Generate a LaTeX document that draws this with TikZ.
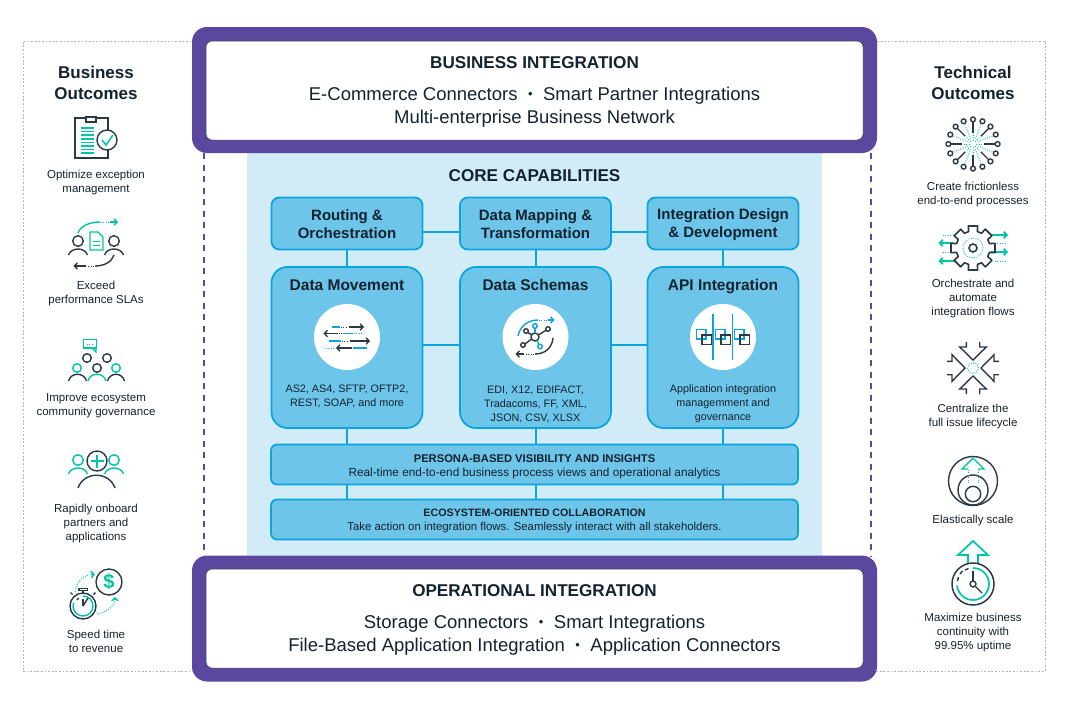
\documentclass[tikz,border=0pt]{standalone}
\usepackage{fontspec}
\usepackage{xcolor}
\setmainfont{Liberation Sans}
\usetikzlibrary{positioning, arrows.meta}

\definecolor{inkdark}{HTML}{13222F}
\definecolor{icondark}{HTML}{2B3947}
\definecolor{iconteal}{HTML}{00C4A7}
\definecolor{barpurple}{HTML}{5B479E}
\definecolor{corepale}{HTML}{D2ECF7}
\definecolor{boxfill}{HTML}{6DC5E9}
\definecolor{boxline}{HTML}{0AA5DC}

\newcommand{\sepdot}{\hspace{10.5pt}\raisebox{1.3pt}{\fontsize{13}{13}\selectfont\textbullet}\hspace{10.5pt}}

\tikzset{
    barb/.style={-{Straight Barb[length=3pt,width=6.5pt]}},
    darkline/.style={draw=icondark, line width=1.4pt},
    tealline/.style={draw=iconteal, line width=1.4pt},
    blueline/.style={draw=boxline, line width=1.4pt},
    fineteal/.style={draw=iconteal, line width=0.9pt, dash pattern=on 1pt off 1.4pt},
    fineblue/.style={draw=boxline, line width=0.9pt, dash pattern=on 1pt off 1.4pt},
    finedark/.style={draw=icondark, line width=0.9pt, dash pattern=on 1pt off 1.4pt},
    purplebar/.style={fill=barpurple, draw=none, rounded corners=15pt, inner sep=0pt, outer sep=0pt, minimum width=685pt, minimum height=126pt},
    whitebar/.style={fill=white, draw=icondark, line width=0.5pt, rounded corners=6pt, inner sep=0pt, outer sep=0pt, minimum width=657pt, minimum height=99pt},
    topbox/.style={fill=boxfill, draw=boxline, line width=1.8pt, rounded corners=8pt, inner sep=0pt, outer sep=0pt, minimum width=151pt, minimum height=52pt},
    toptext/.style={text=inkdark, align=center, font=\bfseries\fontsize{15}{18}\selectfont},
    bigbox/.style={fill=boxfill, draw=boxline, line width=1.8pt, rounded corners=16pt, inner sep=0pt, outer sep=0pt, minimum width=151pt, minimum height=161pt},
    widebox/.style={fill=boxfill, draw=boxline, line width=1.8pt, rounded corners=6pt, inner sep=0pt, outer sep=0pt, minimum width=527pt, minimum height=40pt},
    widetext/.style={text=inkdark, align=center, font=\fontsize{11.4}{14}\selectfont},
    whitedisc/.style={circle, fill=white, draw=none, inner sep=0pt, outer sep=0pt, minimum size=66pt},
    joinline/.style={draw=boxline, line width=2pt},
    sidehead/.style={text=inkdark, align=center, font=\bfseries\fontsize{17}{21}\selectfont},
    sidetext/.style={text=inkdark, align=center, font=\fontsize{11.5}{14}\selectfont},
    bartitle/.style={text=inkdark, font=\bfseries\fontsize{17.1}{21}\selectfont},
    bartext/.style={text=inkdark, align=center, font=\fontsize{18.5}{23}\selectfont},
    boxtitle/.style={text=inkdark, text height=12pt, text depth=3pt, font=\bfseries\fontsize{15.5}{18}\selectfont},
    boxtext/.style={text=inkdark, align=center, font=\fontsize{10.8}{14}\selectfont},
    person/.pic={
        \draw[pic actions] (0,0) circle[radius=5.3pt];
        \draw[pic actions] (-9.5,14) .. controls (-7,6) and (7,6) .. (9.5,14);
    },
    inarrow/.pic={
        \draw[darkline] (-6.7,-26) -- (-6.7,-21) -- (-13.3,-21) -- (0,-8) -- (13.3,-21) -- (6.7,-21) -- (6.7,-26);
    },
}

\begin{document}
\begin{tikzpicture}[x=1pt, y=-1pt]
    \useasboundingbox (0,0) rectangle (1068,710);

    % frame and middle panel
    \node[draw=gray!60, line width=1pt, dash pattern=on 1.8pt off 1.8pt, inner sep=0pt, minimum width=1022pt, minimum height=630pt] (outerframe) at (534,356) {};
    \node[fill=corepale, inner sep=0pt, outer sep=0pt, minimum width=575pt, minimum height=405pt] (corepanel) at (534.5,354.5) {};

    \coordinate (leftdashtop) at (203.5,153);
    \coordinate (leftdashend) at (203.5,556);
    \coordinate (rightdashtop) at (870.5,153);
    \coordinate (rightdashend) at (870.5,556);
    \draw[draw=barpurple, line width=2pt, dash pattern=on 6pt off 5.5pt] (leftdashtop) -- (leftdashend);
    \draw[draw=barpurple, line width=2pt, dash pattern=on 6pt off 5.5pt] (rightdashtop) -- (rightdashend);

    % top and bottom bars
    \node[purplebar] (topbar) at (534.5,90) {};
    \node[whitebar] (topinner) at (534.5,90.5) {};
    \node[bartitle] (toptitle) at (534.5,63) {BUSINESS INTEGRATION};
    \node[bartext] (toptext) at (534.5,107) {E-Commerce Connectors\sepdot Smart Partner Integrations\\Multi-enterprise Business Network};

    \node[purplebar] (lowbar) at (534.5,618.5) {};
    \node[whitebar] (lowinner) at (534.5,618.5) {};
    \node[bartitle] (lowtitle) at (534.5,591) {OPERATIONAL INTEGRATION};
    \node[bartext] (lowtext) at (534.5,635) {Storage Connectors\sepdot Smart Integrations\\File-Based Application Integration\sepdot Application Connectors};

    \node[bartitle] (coretitle) at (534.5,176) {CORE CAPABILITIES};

    % boxes
    \node[topbox] (routing) at (347,223.5) {};
    \node[topbox] (mapping) at (535.5,223.5) {};
    \node[topbox] (design) at (723,223.5) {};
    \node[bigbox] (movement) at (347,347.5) {};
    \node[bigbox] (schemas) at (535.5,347.5) {};
    \node[bigbox] (api) at (723,347.5) {};
    \node[widebox] (persona) at (534.5,464.5) {};
    \node[widebox] (ecosystem) at (534.5,519.5) {};

    % connectors
    \coordinate (rowone) at (347,232);
    \coordinate (rowtwo) at (347,345);
    \draw[joinline] (routing.east |- rowone) -- (mapping.west |- rowone);
    \draw[joinline] (mapping.east |- rowone) -- (design.west |- rowone);
    \draw[joinline] (movement.east |- rowtwo) -- (schemas.west |- rowtwo);
    \draw[joinline] (schemas.east |- rowtwo) -- (api.west |- rowtwo);
    \draw[joinline] (routing) -- (movement);
    \draw[joinline] (mapping) -- (schemas);
    \draw[joinline] (design) -- (api);
    \draw[joinline] (movement.south) -- (movement.south |- persona.north);
    \draw[joinline] (schemas.south) -- (schemas.south |- persona.north);
    \draw[joinline] (api.south) -- (api.south |- persona.north);
    \draw[joinline] (movement.south |- persona.south) -- (movement.south |- ecosystem.north);
    \draw[joinline] (schemas.south |- persona.south) -- (schemas.south |- ecosystem.north);
    \draw[joinline] (api.south |- persona.south) -- (api.south |- ecosystem.north);

    % box contents
    \node[toptext] (routingtext) at (347,224.5) {Routing \&\\Orchestration};
    \node[toptext] (mappingtext) at (535.5,224.5) {Data Mapping \&\\Transformation};
    \node[toptext] (designtext) at (723,224.5) {Integration Design\\\& Development};
    \node[boxtitle] (movementtitle) at (347,286) {Data Movement};
    \node[boxtitle] (schemastitle) at (535.5,286) {Data Schemas};
    \node[boxtitle] (apititle) at (723,286) {API Integration};
    \node[whitedisc] (movementdisc) at (347,337) {};
    \node[whitedisc] (schemasdisc) at (535.5,337) {};
    \node[whitedisc] (apidisc) at (723,337) {};
    \node[boxtext] (movementtext) at (347,396) {AS2, AS4, SFTP, OFTP2,\\REST, SOAP, and more};
    \node[boxtext] (schemastext) at (535.5,404) {EDI, X12, EDIFACT,\\Tradacoms, FF, XML,\\JSON, CSV, XLSX};
    \node[boxtext] (apitext) at (723,404) {Application integration\\managemment and\\governance};
    \node[widetext] (personatext) at (534.5,467) {\bfseries\fontsize{11.2}{14}\selectfont PERSONA-BASED VISIBILITY AND INSIGHTS\\\fontsize{11.8}{14}\selectfont Real-time end-to-end business process views and operational analytics};
    \node[widetext] (ecosystemtext) at (534.5,520.5) {\bfseries\fontsize{10.7}{14}\selectfont ECOSYSTEM-ORIENTED COLLABORATION\\Take action on integration flows. Seamlessly interact with all stakeholders.};

    % disc icons
    \draw[blueline] (332,327) -- (340,327);
    \draw[finedark] (341,327) -- (348,327);
    \draw[darkline, barb] (349,327) -- (364,327);
    \draw[darkline, barb] (338,333.5) -- (323.5,333.5);
    \draw[finedark] (339,333.5) -- (342,333.5);
    \draw[blueline] (343,333.5) -- (353,333.5);
    \draw[fineblue] (354,333.5) -- (363,333.5);
    \draw[blueline] (329,341) -- (341,341);
    \draw[finedark] (342,341) -- (349,341);
    \draw[darkline, barb] (350,341) -- (370,341);
    \draw[fineblue] (326,348) -- (335,348);
    \draw[darkline, barb] (352,348) -- (336,348);
    \draw[blueline] (353,348) -- (367,348);

    \draw[blueline] (518,336) .. controls (520,326) and (528,320) .. (538,320);
    \draw[fineblue] (539,320) -- (547,320);
    \draw[blueline, barb] (548,320) -- (554.5,320);
    \draw[darkline] (553,338) .. controls (552,348) and (545,354) .. (535,354);
    \draw[finedark] (534,354) -- (525,354);
    \draw[darkline, barb] (524,354) -- (515.5,354);
    \draw[darkline] (535,337) circle[radius=4pt];
    \draw[blueline] (535,326) circle[radius=2.3pt];
    \draw[blueline] (535,328.3) -- (535,333);
    \draw[blueline] (540,346.5) circle[radius=2.3pt];
    \draw[blueline] (539,344.5) -- (537,340.5);
    \draw[darkline] (548,329) circle[radius=2.3pt];
    \draw[darkline] (546,330.2) -- (538.5,335);
    \draw[darkline] (526,331) circle[radius=2.3pt];
    \draw[darkline] (528,332.5) -- (531.5,335);
    \draw[darkline] (523,345) circle[radius=2.3pt];
    \draw[darkline] (525,344) -- (531.5,339);

    \draw[blueline] (713,314) -- (713,360);
    \draw[blueline] (732.3,314) -- (732.3,360);
    \foreach \sq in {0,19,38} {
        \draw[blueline, line width=1.6pt] (696.3+\sq,329.3) rectangle (705.7+\sq,338.7);
        \draw[darkline] (702+\sq,335) rectangle (711.3+\sq,344.5);
    }

    % left column
    \node[sidehead] (businesshead) at (96,82.5) {Business\\Outcomes};

    \draw[darkline] (86,118) -- (75,118) -- (75,158) -- (108,158) -- (108,150);
    \draw[darkline] (97,118) -- (108,118) -- (108,130);
    \draw[darkline] (86,117) rectangle (96,122);
    \foreach \ly in {128,131.6,...,154} {
        \draw[tealline, line width=1.7pt] (81,\ly) -- (93.5,\ly);
    }
    \draw[darkline] (107,140) circle[radius=10pt];
    \draw[tealline, line width=1.5pt] (102,140) -- (106,145) -- (113,135);
    \node[sidetext] (exceptiontext) at (96,183) {Optimize exception\\management};

    \draw[tealline] (78,233) .. controls (80,227) and (88,222) .. (100,222);
    \draw[fineteal] (101,222) -- (109,222);
    \draw[tealline, barb] (110,222) -- (118,222);
    \pic[darkline] at (78,241) {person};
    \pic[darkline] at (114,241) {person};
    \draw[tealline] (90,232) -- (98,232) -- (103,237) -- (103,250) -- (90,250) -- cycle;
    \draw[tealline, line width=1pt] (93,241) -- (100,241);
    \draw[tealline, line width=1pt] (93,245) -- (100,245);
    \draw[darkline] (114,255) .. controls (112,262) and (104,266) .. (95,266);
    \draw[finedark] (94,266) -- (87,266);
    \draw[darkline, barb] (86,266) -- (73.5,266);
    \node[sidetext] (slatext) at (96,294) {Exceed\\performance SLAs};

    \draw[tealline] (83.5,339.5) rectangle (96.5,348);
    \draw[tealline] (92,348) -- (96,352) -- (96,348);
    \draw[fineteal] (87,344) -- (93,344);
    \draw[darkline] (87,358) circle[radius=4.3pt];
    \draw[darkline] (107,358) circle[radius=4.3pt];
    \draw[tealline] (77,368) circle[radius=4.3pt];
    \draw[darkline] (97,368) circle[radius=4.3pt];
    \draw[tealline] (116,368) circle[radius=4.3pt];
    \draw[darkline] (68.5,381) .. controls (71,372) and (84,372) .. (86.5,381);
    \draw[tealline] (88,381) .. controls (90,372) and (104,372) .. (106,381);
    \draw[darkline] (107.5,381) .. controls (110,372) and (122,372) .. (124.5,381);
    \node[sidetext] (governtext) at (96,406) {Improve ecosystem\\community governance};

    \pic[tealline] at (78,460) {person};
    \pic[tealline] at (114,460) {person};
    \draw[darkline, fill=white] (97,461) circle[radius=10pt];
    \draw[tealline] (90.5,461) -- (103.5,461);
    \draw[tealline] (97,454.5) -- (97,467.5);
    \draw[darkline] (78,488) .. controls (84,471) and (109,471) .. (115,488);
    \node[sidetext] (onboardtext) at (96,524) {Rapidly onboard\\partners and\\applications};

    \draw[fineteal] (75,592) .. controls (76,582) and (84,575) .. (90,575);
    \draw[tealline, barb] (91,574.5) -- (95,574);
    \draw[fineteal] (97,614) .. controls (108,612) and (114,606) .. (115,600);
    \draw[tealline, barb] (115,600) -- (115,597);
    \draw[darkline] (109,582) circle[radius=13pt];
    \node[text=iconteal, font=\bfseries\fontsize{20}{20}\selectfont] (dollarsign) at (109,582) {\$};
    \draw[darkline] (83,606) circle[radius=13pt];
    \draw[tealline] (83,596) arc (90:-200:10pt);
    \draw[darkline] (79,588.5) rectangle (87.5,590.5);
    \draw[darkline] (83,590.5) -- (83,593);
    \draw[darkline] (72.5,594.5) -- (70.5,592.5);
    \draw[darkline] (93.5,594.5) -- (95.5,592.5);
    \draw[darkline] (83,606) -- (88,598);
    \draw[darkline] (83,599) -- (83,606);
    \draw[darkline] (77,600) arc (150:130:7pt);
    \node[sidetext] (revenuetext) at (96,641.5) {Speed time\\to revenue};

    % right column
    \node[sidehead] (technicalhead) at (973,82.5) {Technical\\Outcomes};

    \begin{scope}[shift={(973,144)}]
        \foreach \spoke in {0,45,...,315} {
            \draw[darkline] (\spoke:22) -- (\spoke:11);
            \draw[fineteal] (\spoke:9) -- (\spoke:3);
            \draw[darkline] (\spoke:24.6) circle[radius=2.4pt];
        }
        \foreach \spoke in {22.5,67.5,...,337.5} {
            \draw[fineteal] (\spoke:21) -- (\spoke:6);
            \draw[darkline] (\spoke:24.6) circle[radius=2.4pt];
        }
    \end{scope}
    \node[sidetext] (frictiontext) at (973,194.5) {Create frictionless\\end-to-end processes};

    \draw[tealline, line width=1.8pt, barb] (991,235) -- (1008,235);
    \draw[tealline, line width=1.8pt, barb] (991,252) -- (1008,252);
    \draw[tealline, line width=1.8pt, barb] (953,243) -- (938.5,243);
    \draw[tealline, line width=1.8pt, barb] (955,261) -- (938.5,261);
    \draw[fineteal] (943,235) -- (953,235);
    \draw[fineteal] (943,252) -- (952,252);
    \draw[fineteal] (995,243) -- (1005,243);
    \draw[fineteal] (995,261) -- (1005,261);
    \begin{scope}[shift={(973,248)}]
        \draw[darkline, line width=1.6pt, line join=round] (-12:22.5) \foreach \tooth in {0,45,...,315} {
            -- (\tooth-12:22.5) -- (\tooth+12:22.5) -- (\tooth+15:17) -- (\tooth+30:17)
        } -- cycle;
        \draw[darkline, line width=1.6pt] (0,0) circle[radius=4pt];
        \draw[fineteal] (0,0) circle[radius=10pt];
    \end{scope}
    \node[sidetext] (flowstext) at (973,299) {Orchestrate and\\automate\\integration flows};

    \pic at (973,368) {inarrow};
    \pic[rotate=90] at (973,368) {inarrow};
    \pic[rotate=180] at (973,368) {inarrow};
    \pic[rotate=270] at (973,368) {inarrow};
    \draw[fineteal] (973,368) circle[radius=5.5pt];
    \node[sidetext] (lifecycletext) at (973,417) {Centralize the\\full issue lifecycle};

    \draw[darkline] (973,481) circle[radius=24.5pt];
    \draw[darkline] (973,490) circle[radius=15pt];
    \draw[darkline] (973,494) circle[radius=7.7pt];
    \draw[tealline] (968,469) -- (962,469) -- (973,458) -- (984,469) -- (978,469);
    \draw[fineteal] (968,470) -- (968,483);
    \draw[fineteal] (978,470) -- (978,483);
    \node[sidetext] (scaletext) at (973,521) {Elastically scale};

    \draw[tealline, line width=1.7pt] (968,563) -- (968,555) -- (958,555) -- (973,541) -- (988,555) -- (978,555) -- (978,563);
    \draw[darkline, line width=1.5pt] (973,584) circle[radius=21pt];
    \draw[tealline, line width=1.7pt] (973,568) arc (90:-175:16pt);
    \draw[darkline] (957.5,581) -- (958.5,577);
    \draw[darkline] (960,574) -- (962.5,571);
    \draw[darkline] (965,570) -- (968.5,568.5);
    \draw[darkline] (973,571) -- (973,580.5);
    \draw[darkline] (973,584) circle[radius=3pt];
    \draw[darkline] (975.5,586.5) -- (982,593);
    \node[sidetext] (uptimetext) at (973,633) {Maximize business\\continuity with\\99.95\% uptime};
\end{tikzpicture}
\end{document}
